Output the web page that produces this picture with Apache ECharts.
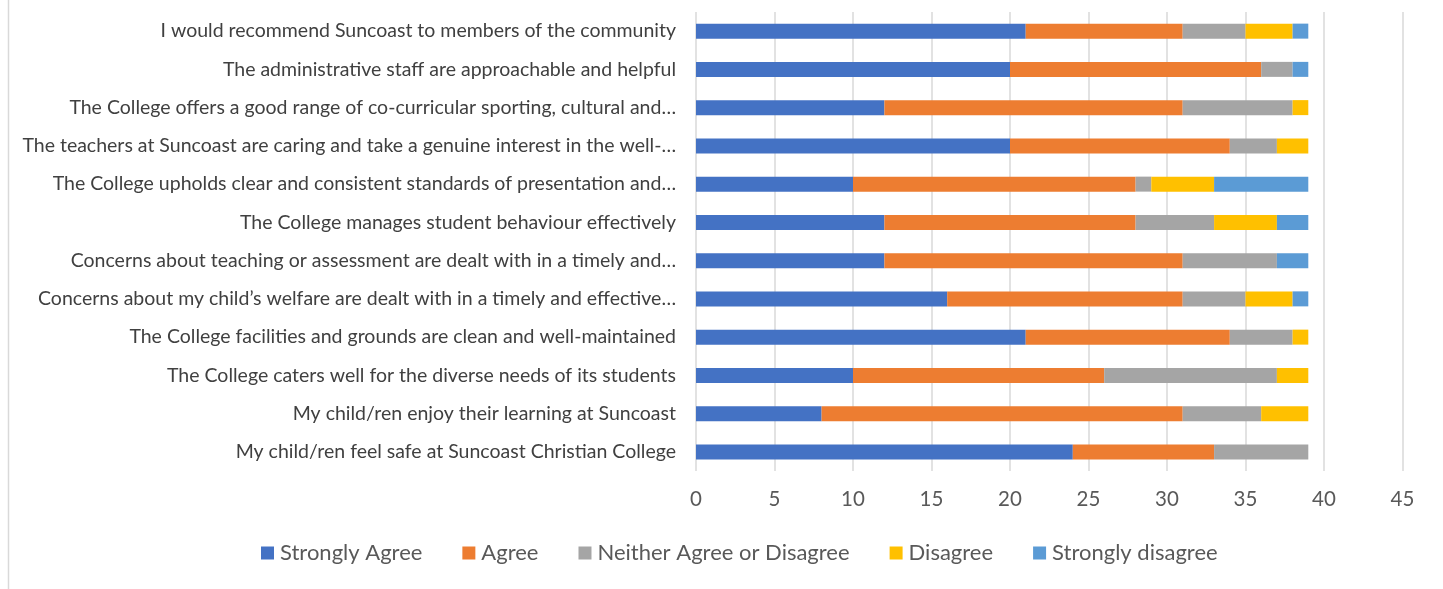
<!DOCTYPE html>
<html><head><meta charset="utf-8">
<script src="https://cdn.jsdelivr.net/npm/echarts@6/dist/echarts.min.js"></script>
<style>html,body{margin:0;padding:0;background:#fff}#c{width:1443px;height:589px}</style>
</head><body><div id="c"></div>
<script>
const categories = [
  "I would recommend Suncoast to members of the community",
  "The administrative staff are approachable and helpful",
  "The College offers a good range of co-curricular sporting, cultural and…",
  "The teachers at Suncoast are caring and take a genuine interest in the well-…",
  "The College upholds clear and consistent standards of presentation and…",
  "The College manages student behaviour effectively",
  "Concerns about teaching or assessment are dealt with in a timely and…",
  "Concerns about my child’s welfare are dealt with in a timely and effective…",
  "The College facilities and grounds are clean and well-maintained",
  "The College caters well for the diverse needs of its students",
  "My child/ren enjoy their learning at Suncoast",
  "My child/ren feel safe at Suncoast Christian College"
];
const seriesNames = ["Strongly Agree","Agree","Neither Agree or Disagree","Disagree","Strongly disagree"];
const stronglyAgree = [21,20,12,20,10,12,12,16,21,10,8,24];
const agree         = [10,16,19,14,18,16,19,15,13,16,23,9];
const neither       = [4,2,7,3,1,5,6,4,4,11,5,6];
const disagree      = [3,0,1,2,4,4,0,3,1,2,3,0];
const stronglyDis   = [1,1,0,0,6,2,2,1,0,0,0,0];
const xTicks = [0,5,10,15,20,25,30,35,40,45];

const colors = ["#4472C4","#ED7D31","#A5A5A5","#FFC000","#5B9BD5"];
const values = [stronglyAgree, agree, neither, disagree, stronglyDis];
const font = "Lato";

const chart = echarts.init(document.getElementById('c'), null, {renderer:'canvas'});
chart.setOption({
  animation:false,
  color: colors,
  textStyle:{fontFamily:font},
  graphic:[{type:'line', shape:{x1:8.5,y1:0,x2:8.5,y2:589}, style:{stroke:'#D9D9D9', lineWidth:1.5}}],
  grid:{left:696, right:40.5, top:12, bottom:118, containLabel:false},
  legend:{
    data: seriesNames,
    bottom: 20, left: 256,
    itemWidth:13, itemHeight:13, itemGap:40,
    icon:'rect',
    textStyle:{fontFamily:font, fontSize:22, color:'#595959', padding:[0,0,0,1]}
  },
  xAxis:{
    type:'value', min:xTicks[0], max:xTicks[xTicks.length-1], interval:5,
    axisLine:{show:false}, axisTick:{show:false},
    splitLine:{show:true, lineStyle:{color:'#D9D9D9', width:1.5}},
    axisLabel:{fontFamily:font, fontSize:20.5, color:'#595959', margin:18}
  },
  yAxis:{
    type:'category', data: categories, inverse:true,
    axisLine:{show:false}, axisTick:{show:false},
    axisLabel:{fontFamily:font, fontSize:19.5, color:'#404040', margin:20}
  },
  series: seriesNames.map((n,i)=>({
    name:n, type:'bar', stack:'total', data: values[i], barWidth:15,
    itemStyle:{color:colors[i]}
  }))
});
</script></body></html>
